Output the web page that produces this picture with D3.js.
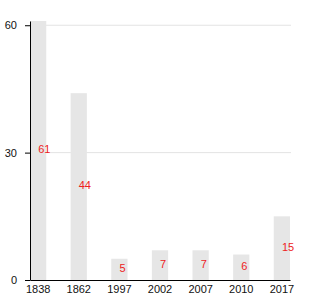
<!DOCTYPE html>
<html>
<head>
<meta charset="utf-8">
<script src="https://cdn.jsdelivr.net/npm/d3@7"></script>
<style>
  body { margin: 0; background: #fff; }
  svg { display: block; font-family: "Liberation Sans", Arial, sans-serif; }
</style>
</head>
<body>
<div id="chart"></div>
<script>
// Chart data
const years = ["1838", "1862", "1997", "2002", "2007", "2010", "2017"];
const values = [61, 44, 5, 7, 7, 6, 15];
const yTicks = [0, 30, 60];

const width = 330, height = 300;
const margin = { top: 21, right: 40, bottom: 20, left: 30 };

const svg = d3.select("#chart").append("svg")
  .attr("width", width)
  .attr("height", height);

// soft edge on the bars
svg.append("defs").append("filter")
  .attr("id", "soft")
  .append("feGaussianBlur")
  .attr("stdDeviation", 0.6);

const x = d3.scaleBand()
  .domain(years)
  .range([margin.left, width - margin.right])
  .paddingInner(0.6)
  .paddingOuter(0);

const y = d3.scaleLinear()
  .domain([0, d3.max(values)])
  .range([height - margin.bottom, margin.top]);

// Gridlines
svg.append("g")
  .selectAll("line")
  .data(yTicks.filter(d => d > 0))
  .join("line")
  .attr("x1", margin.left)
  .attr("x2", x.range()[1] + 1)
  .attr("y1", d => y(d))
  .attr("y2", d => y(d))
  .attr("stroke", "#e3e3e3")
  .attr("stroke-width", 1);

// Bars
svg.append("g")
  .selectAll("rect")
  .data(values)
  .join("rect")
  .attr("x", (d, i) => x(years[i]))
  .attr("y", d => y(d))
  .attr("width", x.bandwidth())
  .attr("height", d => y(0) - y(d))
  .attr("fill", "#e6e6e6")
  .attr("filter", "url(#soft)");

// Value labels
svg.append("g")
  .selectAll("text")
  .data(values)
  .join("text")
  .attr("x", (d, i) => x(years[i]) + x.bandwidth() / 2)
  .attr("y", d => (y(d) + y(0)) / 2 - 1)
  .attr("dy", "0.35em")
  .attr("text-anchor", "start")
  .attr("font-size", "11px")
  .attr("fill", "#ee2222")
  .text(d => d);

// Axes
svg.append("g")
  .attr("transform", `translate(${margin.left},0)`)
  .call(d3.axisLeft(y).tickValues(yTicks).tickSize(5).tickPadding(8).tickSizeOuter(0))
  .call(g => g.selectAll("text").attr("font-size", "11px").attr("fill", "#111"))
  .call(g => g.select(".domain").attr("stroke", "#000"));

svg.append("g")
  .attr("transform", `translate(0,${y(0)})`)
  .call(d3.axisBottom(x).tickSize(0).tickPadding(5).tickSizeOuter(0))
  .call(g => g.selectAll("text").attr("font-size", "11px").attr("fill", "#111"))
  .call(g => g.select(".domain").attr("stroke", "#000"));
</script>
</body>
</html>
